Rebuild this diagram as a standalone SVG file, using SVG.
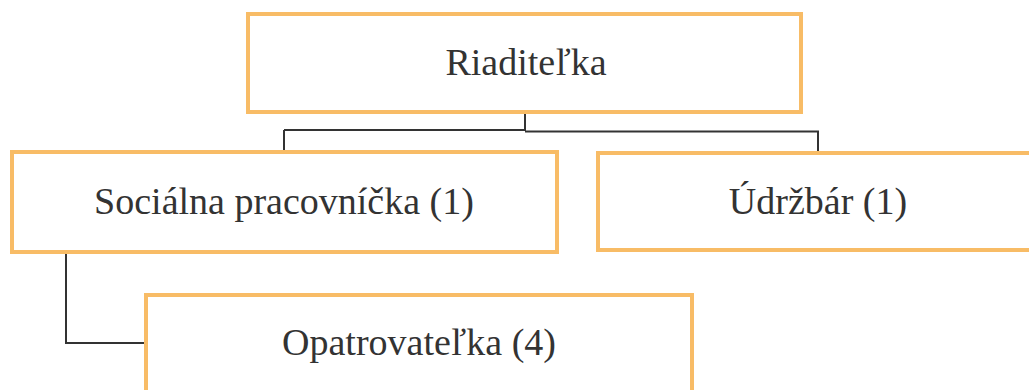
<svg xmlns="http://www.w3.org/2000/svg" width="1029" height="390" viewBox="0 0 1029 390">
<style>
.box{fill:#fff;stroke:#f8bc66;stroke-width:4}
.lbl{font-family:'Liberation Serif','Times New Roman','DejaVu Serif',serif;font-size:38px;fill:#333;text-anchor:middle}
.con{fill:none;stroke:#333;stroke-width:2}
</style>
<rect width="1029" height="390" fill="#fff"/>
<g id="connectors">
<path class="con" d="M525 112 V131 M284 130 H525 M525 131.5 H818 V152"/>
<path class="con" d="M284 130 V152"/>
<path class="con" d="M66 252 V343 H146"/>
</g>
<g id="riaditelka">
<rect class="box" x="248" y="14" width="553" height="98"/>
<text class="lbl" x="526" y="75" font-family="Liberation Serif, serif">Riaditeľka</text>
</g>
<g id="socialna">
<rect class="box" x="12" y="152" width="545" height="100"/>
<text class="lbl" x="284" y="214" font-family="Liberation Serif, serif">Sociálna pracovníčka (1)</text>
</g>
<g id="udrzbar">
<rect class="box" x="598" y="153" width="440" height="97"/>
<text class="lbl" x="818" y="214" font-family="Liberation Serif, serif">Údržbár (1)</text>
</g>
<g id="opatrovatelka">
<rect class="box" x="146" y="295" width="546" height="100"/>
<text class="lbl" x="419" y="355" font-family="Liberation Serif, serif">Opatrovateľka (4)</text>
</g>
</svg>
